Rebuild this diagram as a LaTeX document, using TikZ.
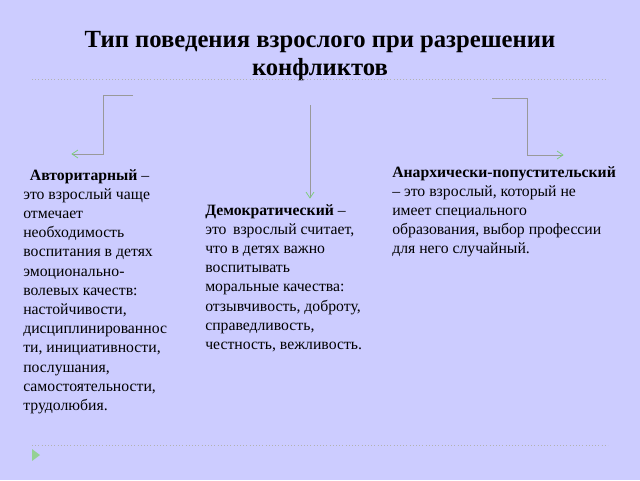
\documentclass[tikz,border=0pt]{standalone}
\usepackage{fontspec}
\setmainfont{Liberation Serif}
\begin{document}
\begin{tikzpicture}[x=0.75pt,y=-0.75pt,
  body/.style={anchor=north west,align=left,inner sep=0pt,font=\fontsize{11.8}{14.4}\selectfont},
  conn/.style={draw=gray!80,line width=0.6pt},
  tip/.style={draw=green!45!gray!70,line width=0.6pt}]
\fill[fill={rgb,255:red,204;green,204;blue,255}] (0,0) rectangle (640,480);
\useasboundingbox (0,0) rectangle (640,480);
\node[font=\fontsize{18.5}{21.5}\selectfont\bfseries,align=center] (title) at (320,56) {Тип поведения взрослого при разрешении\\конфликтов};
\draw[gray!60,dotted] (32,79) -- (608,79);
\draw[gray!60,dotted] (32,445) -- (608,445);
\fill[green!40!gray!60] (32,449) -- (40,455) -- (32,461) -- cycle;
% left arrow
\coordinate (l0) at (133,95); \coordinate (l1) at (103,95); \coordinate (l2) at (103,154); \coordinate (l3) at (72,154);
\draw[conn] (l0) -- (l1) -- (l2) -- (l3);
\draw[tip] (78,150) -- (l3) -- (78,158);
% middle
\coordinate (m0) at (310,105); \coordinate (m1) at (310,198);
\draw[conn] (m0) -- (m1);
\draw[tip] (306,192) -- (m1) -- (314,192);
% right
\coordinate (r0) at (492,98); \coordinate (r1) at (527,98); \coordinate (r2) at (527,155); \coordinate (r3) at (563,155);
\draw[conn] (r0) -- (r1) -- (r2) -- (r3);
\draw[tip] (557,151) -- (r3) -- (557,159);
\node[body] (a) at (23,169) {\hspace{5pt}\textbf{Авторитарный} –\\это взрослый чаще\\отмечает\\необходимость\\воспитания в детях\\эмоционально-\\волевых качеств:\\настойчивости,\\дисциплинированнос\\ти, инициативности,\\послушания,\\самостоятельности,\\трудолюбия.};
\node[body] (d) at (205,204) {\textbf{Демократический} –\\это\, взрослый считает,\\что в детях важно\\воспитывать\\моральные качества:\\отзывчивость, доброту,\\справедливость,\\честность, вежливость.};
\node[body] (n) at (392,166) {\textbf{Анархически-попустительский}\\– это взрослый, который не\\имеет специального\\образования, выбор профессии\\для него случайный.};
\end{tikzpicture}
\end{document}
